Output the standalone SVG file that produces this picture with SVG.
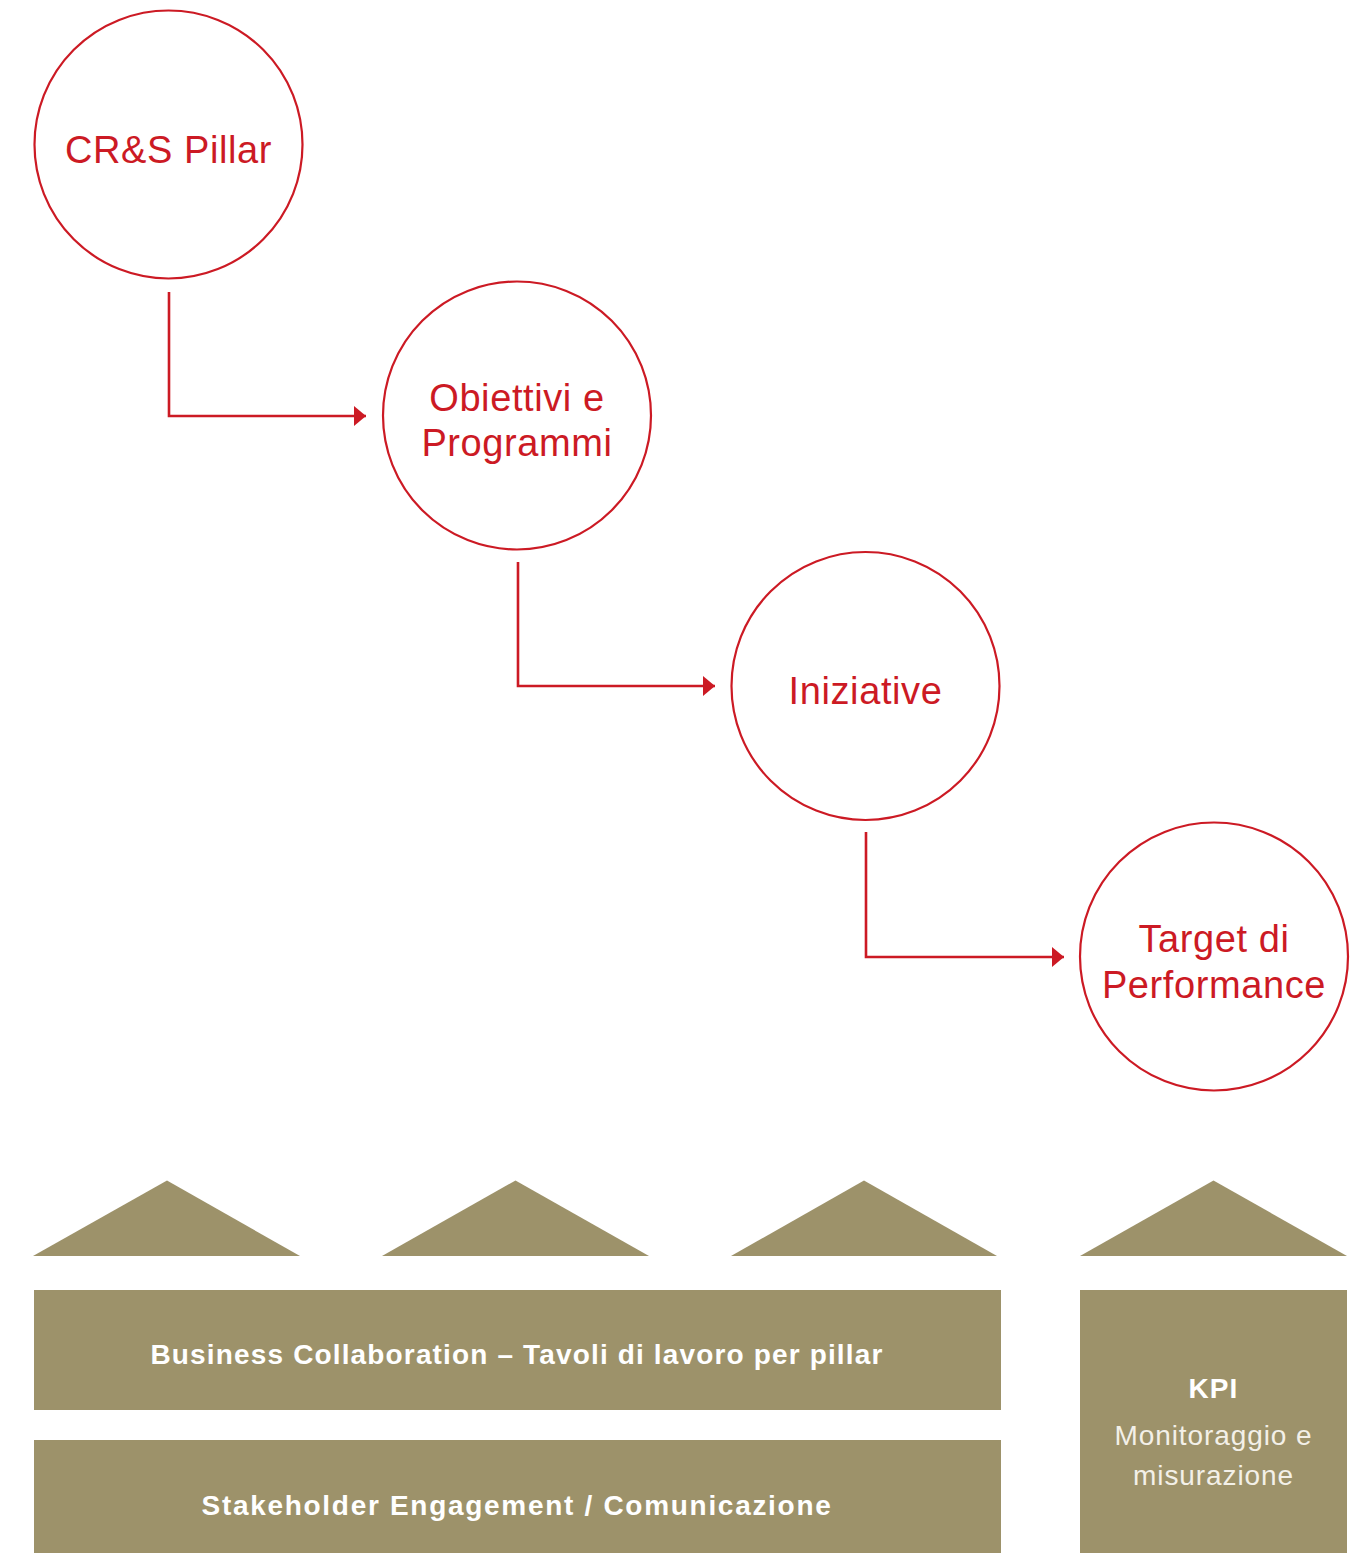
<svg xmlns="http://www.w3.org/2000/svg" width="1358" height="1553" viewBox="0 0 1358 1553">
<style>
.c{fill:#fff;stroke:#cc1a24;stroke-width:2.2}
.ct{font-family:"Liberation Sans",Arial,sans-serif;font-size:38px;fill:#cc1a24;text-anchor:middle;letter-spacing:0.6px}
.k{stroke:#cc1a24;stroke-width:2.6;fill:none}
.tan{fill:#9d926a}
.bt{font-family:"Liberation Sans",Arial,sans-serif;font-size:28px;font-weight:bold;fill:#fff;text-anchor:middle;letter-spacing:1.15px}
.rt{font-family:"Liberation Sans",Arial,sans-serif;font-size:28px;fill:#f3f0e8;text-anchor:middle;letter-spacing:0.9px}
</style>
<defs>
<marker id="ah" markerWidth="13" markerHeight="20" refX="12" refY="10" orient="auto" markerUnits="userSpaceOnUse">
<path d="M0,0 L12,10 L0,20 Z" fill="#cc1a24"/>
</marker>
</defs>
<g id="connectors">
<path class="k" d="M169,292 V416 H366" marker-end="url(#ah)"/>
<path class="k" d="M518,562 V686 H715" marker-end="url(#ah)"/>
<path class="k" d="M866,832 V957 H1064" marker-end="url(#ah)"/>
</g>
<g id="pillar">
<circle class="c" cx="168.5" cy="144.5" r="134"/>
<text class="ct" x="168.5" y="163">CR&amp;S Pillar</text>
</g>
<g id="obiettivi">
<circle class="c" cx="517" cy="415.5" r="134"/>
<text class="ct" x="517" y="411">Obiettivi e</text>
<text class="ct" x="517" y="456">Programmi</text>
</g>
<g id="iniziative">
<circle class="c" cx="865.5" cy="686" r="134"/>
<text class="ct" x="865.5" y="704">Iniziative</text>
</g>
<g id="target">
<circle class="c" cx="1214" cy="956.5" r="134"/>
<text class="ct" x="1214" y="952">Target di</text>
<text class="ct" x="1214" y="998">Performance</text>
</g>
<g id="roofs">
<polygon class="tan" points="33,1256 167,1180.5 300,1256"/>
<polygon class="tan" points="382,1256 515.5,1180.5 649,1256"/>
<polygon class="tan" points="731,1256 864,1180.5 997,1256"/>
<polygon class="tan" points="1080,1256 1213.5,1180.5 1347,1256"/>
</g>
<g id="business">
<rect class="tan" x="34" y="1290" width="967" height="120"/>
<text class="bt" x="517" y="1364">Business Collaboration – Tavoli di lavoro per pillar</text>
</g>
<g id="stakeholder">
<rect class="tan" x="34" y="1440" width="967" height="113"/>
<text class="bt" x="517" y="1515" style="letter-spacing:1.7px">Stakeholder Engagement / Comunicazione</text>
</g>
<g id="kpi">
<rect class="tan" x="1080" y="1290" width="267" height="263"/>
<text class="bt" x="1213.5" y="1398">KPI</text>
<text class="rt" x="1213.5" y="1445">Monitoraggio e</text>
<text class="rt" x="1213.5" y="1485">misurazione</text>
</g>
</svg>
